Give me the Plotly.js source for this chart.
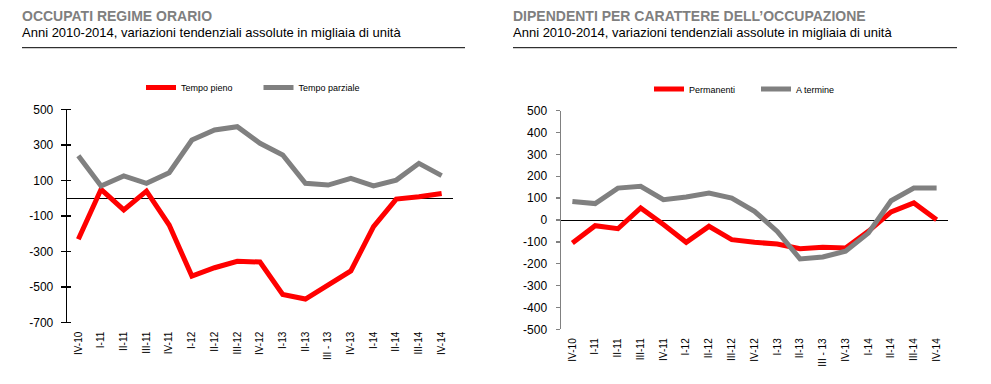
<!DOCTYPE html>
<html><head><meta charset="utf-8">
<script src="https://cdn.plot.ly/plotly-3.0.1.min.js"></script>
<style>body{margin:0;padding:0;background:#fff}#c{width:991px;height:384px}</style>
</head><body><div id="c"></div>
<script>
const categories = ["IV-10","I-11","II-11","III-11","IV-11","I-12","II-12","III-12","IV-12","I-13","II-13","III - 13","IV-13","I-14","II-14","III-14","IV-14"];
const tempoPieno = [-231,50,-66,40,-151,-438,-391,-355,-359,-541,-567,-488,-409,-160,-5,8,27];
const tempoParziale = [239,69,125,84,143,327,384,402,309,243,84,74,112,69,102,196,127];
const permanenti = [-105,-26,-40,55,-21,-102,-29,-90,-102,-110,-131,-125,-128,-52,37,78,1];
const aTermine = [85,75,146,154,93,105,123,100,40,-52,-178,-169,-143,-60,88,146,146];
const leftTitle = "OCCUPATI REGIME ORARIO";
const rightTitle = "DIPENDENTI PER CARATTERE DELL\u2019OCCUPAZIONE";
const subTitle = "Anni 2010-2014, variazioni tendenziali assolute in migliaia di unità";
const leftTicks = [500,300,100,-100,-300,-500,-700];
const leftTickText = ["500","300","100","-100","-300","-500","-700"];
const rightTicks = [500,400,300,200,100,0,-100,-200,-300,-400,-500];
const rightTickText = ["500","400","300","200","100","0","-100","-200","-300","-400","-500"];

const RED = "#ff0000", GRAY = "#808080";
const FONT = "Liberation Sans, Arial, sans-serif";
const W = 991, H = 384;
const px = v => v / W, py = v => 1 - v / H;

const traces = [
  {x: categories, y: tempoPieno, name: "Tempo pieno", type: "scatter", mode: "lines", line: {color: RED, width: 5}, xaxis: "x", yaxis: "y", legend: "legend"},
  {x: categories, y: tempoParziale, name: "Tempo parziale", type: "scatter", mode: "lines", line: {color: GRAY, width: 5}, xaxis: "x", yaxis: "y", legend: "legend2"},
  {x: categories, y: permanenti, name: "Permanenti", type: "scatter", mode: "lines", line: {color: RED, width: 5}, xaxis: "x2", yaxis: "y2", legend: "legend3"},
  {x: categories, y: aTermine, name: "A termine", type: "scatter", mode: "lines", line: {color: GRAY, width: 5}, xaxis: "x2", yaxis: "y2", legend: "legend4"}
];

const xcommon = {type: "category", range: [-0.5, categories.length - 0.5], showgrid: false, showline: false, zeroline: false, ticks: "", tickangle: -90,
  tickfont: {family: FONT, size: 10, color: "#000"}, ticklabelstandoff: 6, fixedrange: true};
const leg = (x, y) => ({x: x, y: y, xanchor: "left", yanchor: "middle", orientation: "h", bgcolor: "rgba(0,0,0,0)",
  borderwidth: 0, font: {family: FONT, size: 9, color: "#000"}});

const layout = {
  width: W, height: H, margin: {l: 0, r: 0, t: 0, b: 0}, paper_bgcolor: "#fff", plot_bgcolor: "rgba(0,0,0,0)",
  showlegend: true,
  legend: leg(px(141), py(87.5)),
  legend2: leg(px(258.5), py(87.5)),
  legend3: leg(px(649), py(89)),
  legend4: leg(px(756), py(89)),
  xaxis: Object.assign({}, xcommon, {domain: [px(67), px(453)], anchor: "y"}),
  xaxis2: Object.assign({}, xcommon, {domain: [px(561), px(948)], anchor: "y2"}),
  yaxis: {domain: [py(322.7), py(109.3)], range: [-700, 500], anchor: "x", showgrid: false, showline: true, linecolor: "#000", linewidth: 1.3,
    zeroline: true, zerolinecolor: "#000", zerolinewidth: 1, ticks: "outside", ticklen: 5, tickcolor: "#000", tickwidth: 1.3,
    tickmode: "array", tickvals: leftTicks, ticktext: leftTickText, tickfont: {family: FONT, size: 12, color: "#000"}, ticklabelstandoff: 5,
    minor: {tickmode: "array", tickvals: leftTicks.map(v => v + 0.01), ticks: "inside", ticklen: 4, tickcolor: "#000", tickwidth: 1.3, showgrid: false},
    fixedrange: true},
  yaxis2: {domain: [py(329.3), py(110.7)], range: [-500, 500], anchor: "x2", showgrid: false, showline: true, linecolor: GRAY, linewidth: 1.5,
    zeroline: true, zerolinecolor: "#000", zerolinewidth: 1, ticks: "outside", ticklen: 4, tickcolor: GRAY, tickwidth: 1.3,
    tickmode: "array", tickvals: rightTicks, ticktext: rightTickText, tickfont: {family: FONT, size: 12, color: "#000"}, ticklabelstandoff: 6, fixedrange: true},
  annotations: [
    {text: "<b>" + leftTitle + "</b>", xref: "paper", yref: "paper", x: px(20), y: py(16), xanchor: "left", yanchor: "middle", showarrow: false, font: {family: FONT, size: 14, color: "#7f7f7f"}},
    {text: subTitle, xref: "paper", yref: "paper", x: px(20), y: py(32), xanchor: "left", yanchor: "middle", showarrow: false, font: {family: FONT, size: 13, color: "#000"}},
    {text: "<b>" + rightTitle + "</b>", xref: "paper", yref: "paper", x: px(511), y: py(16), xanchor: "left", yanchor: "middle", showarrow: false, font: {family: FONT, size: 14, color: "#7f7f7f"}},
    {text: subTitle, xref: "paper", yref: "paper", x: px(511), y: py(32), xanchor: "left", yanchor: "middle", showarrow: false, font: {family: FONT, size: 13, color: "#000"}}
  ],
  shapes: [
    {type: "line", xref: "paper", yref: "paper", x0: px(22), x1: px(465), y0: py(47.7), y1: py(47.7), line: {color: "#000", width: 1}},
    {type: "line", xref: "paper", yref: "paper", x0: px(513), x1: px(957), y0: py(47.7), y1: py(47.7), line: {color: "#000", width: 1}}
  ]
};
Plotly.newPlot("c", traces, layout, {displayModeBar: false, staticPlot: true});
</script></body></html>
